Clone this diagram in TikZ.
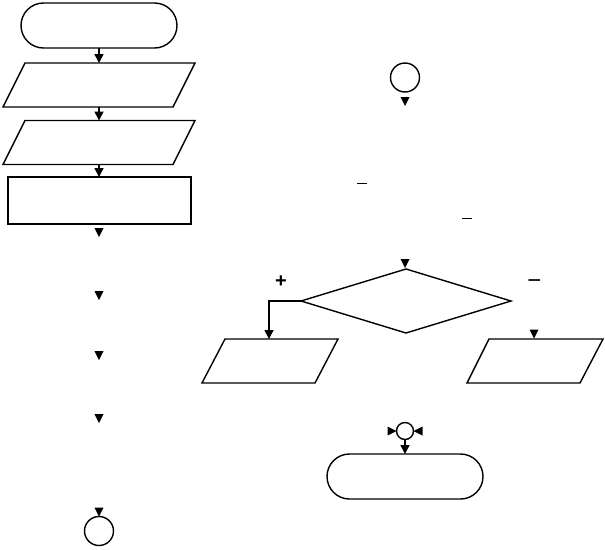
\documentclass[tikz,border=0pt]{standalone}
\usepackage{fontspec}
\setmainfont{Liberation Sans}
\usetikzlibrary{shapes.geometric,shapes.misc,arrows.meta}
\begin{document}
\begin{tikzpicture}[x=1pt,y=-1pt,
  lw/.style={line width=1.4pt},
  term/.style={draw,lw,rounded rectangle,minimum width=156pt,minimum height=45pt,inner sep=0pt,outer sep=0pt},
  procbox/.style={draw,lw,rectangle,minimum width=183pt,minimum height=47pt,inner sep=0pt,outer sep=0pt},
  decision/.style={draw,lw,diamond,minimum width=210pt,minimum height=64pt,inner sep=0pt,outer sep=0pt},
  conn/.style={draw,lw,circle,minimum size=#1,inner sep=0pt,outer sep=0pt},
  iobox/.style={lw,line join=miter},
  arr/.style={lw,-{Triangle[width=9pt,length=9pt]}},
  sign/.style={inner sep=0pt},
  dhead/.pic={\fill (0,0) -- (-4.5,-9) -- (4.5,-9) -- cycle;},
  rhead/.pic={\fill (0,0) -- (-9,-4.5) -- (-9,4.5) -- cycle;},
  lhead/.pic={\fill (0,0) -- (9,-4.5) -- (9,4.5) -- cycle;},
]
\useasboundingbox (0,0) rectangle (605,549);

% left column
\node[term] (t1) at (99,25.5) {};
\draw[iobox] (3,107) -- (25,63) -- (195,63) -- (173,107) -- cycle;
\coordinate (p1n) at (99,63);
\coordinate (p1s) at (99,107);
\draw[iobox] (3,164.5) -- (25,120.5) -- (195,120.5) -- (173,164.5) -- cycle;
\coordinate (p2n) at (99,120.5);
\coordinate (p2s) at (99,164.5);
\node[procbox] (r1) at (99.5,200.5) {};
\node[conn=29pt] (c1) at (99,531) {};

\draw[arr] (t1.south) -- (p1n);
\draw[arr] (p1s) -- (p2n);
\draw[arr] (p2s) -- (p2s |- r1.north);

\pic at (99,237) {dhead};
\pic at (99,300) {dhead};
\pic at (99,360) {dhead};
\pic at (99,423) {dhead};
\pic at (99,516.5) {dhead};

% right column
\node[conn=29pt] (c2) at (405,77.5) {};
\pic at (405,106) {dhead};

\draw[line width=1pt] (357,183) -- (367,183);
\draw[line width=1pt] (462,218) -- (472,218);

\pic at (405,268) {dhead};
\node[decision] (d1) at (406,301) {};
\node[sign,font=\fontsize{20}{20}\selectfont\bfseries] (plus) at (281,282) {+};
\node[sign,font=\fontsize{24}{24}\selectfont] (minus) at (534.5,284) {−};

\draw[iobox] (202,383) -- (225,339) -- (338,339) -- (315,383) -- cycle;
\coordinate (lpn) at (269,339);
\draw[iobox] (467,383) -- (489,339) -- (603,339) -- (580,383) -- cycle;

\coordinate (lbend) at (269,301);
\draw[arr] (d1.west) -- (lbend) -- (lpn);
\pic at (534,338.5) {dhead};

\node[conn=17pt] (c3) at (405,431) {};
\pic at (c3.west) {rhead};
\pic at (c3.east) {lhead};

\node[term] (t2) at (405,476.5) {};
\draw[arr] (c3.south) -- (t2.north);
\end{tikzpicture}
\end{document}
